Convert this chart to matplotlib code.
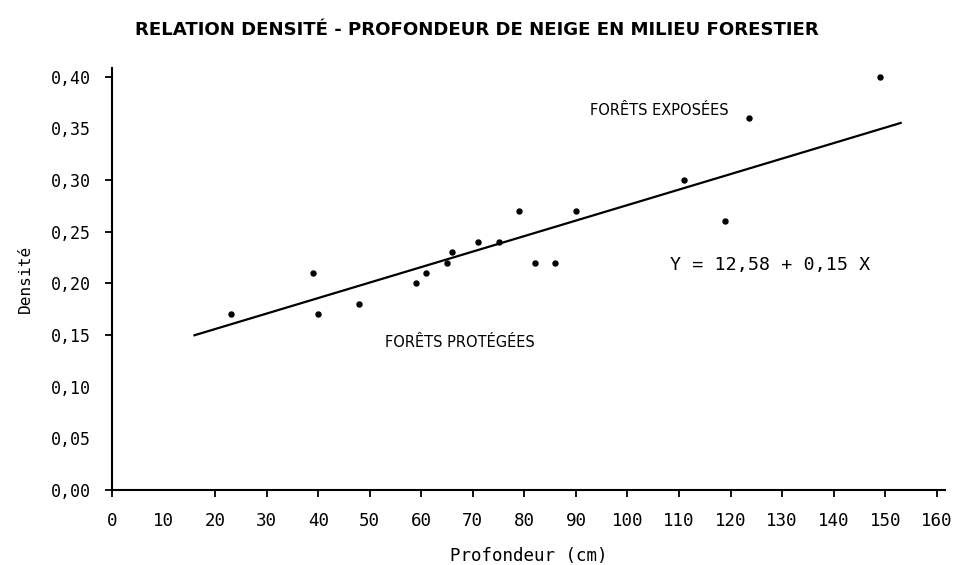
import numpy as np
import matplotlib
matplotlib.use("Agg")
import matplotlib.pyplot as plt

# profondeur de neige (cm) et densite
profondeur = [23, 39, 40, 48, 59, 61, 65, 66, 71, 75, 79, 82, 86, 90, 111, 119, 123.5, 149]
densite = [0.17, 0.21, 0.17, 0.18, 0.20, 0.21, 0.22, 0.23, 0.24, 0.24, 0.27, 0.22, 0.22, 0.27, 0.30, 0.26, 0.36, 0.40]

# droite de regression Y = 12,58 + 0,15 X (densite x 100)
a, b = 12.58, 0.15
x_droite = [16, 153]

x_ticks = list(range(0, 170, 10))
y_ticks = [0.0, 0.05, 0.10, 0.15, 0.20, 0.25, 0.30, 0.35, 0.40]
y_labels = ["0,00", "0,05", "0,10", "0,15", "0,20", "0,25", "0,30", "0,35", "0,40"]

mono = "DejaVu Sans Mono"
fs = 12.6

fig = plt.figure(figsize=(9.65, 5.65), dpi=100)
ax = fig.add_axes([112/965, 75/565, 833/965, 422/565])

xd = np.array(x_droite, dtype=float)
ax.plot(xd, (a + b*xd)/100.0, color="black", lw=1.6)
ax.plot(profondeur, densite, "o", color="black", markersize=3.6)

ax.set_xlim(0, 161.6)
ax.set_ylim(0, 0.4085)
ax.set_xticks(x_ticks)
ax.set_xticklabels([str(t) for t in x_ticks], family=mono, fontsize=fs)
ax.set_yticks(y_ticks)
ax.set_yticklabels(y_labels, family=mono, fontsize=fs - 0.6)
ax.tick_params(direction="out", length=5, width=1.3, colors="black")
ax.tick_params(axis="x", pad=11)
ax.tick_params(axis="y", pad=10)

# quelques graduations ne sont pas tracees sur l'original
ax.xaxis.get_major_ticks()[1].tick1line.set_visible(False)
for i in [1, 2, 7]:
    ax.yaxis.get_major_ticks()[i].tick1line.set_visible(False)

for s in ["top", "right"]:
    ax.spines[s].set_visible(False)
for s in ["left", "bottom"]:
    ax.spines[s].set_linewidth(1.5)

ax.set_xlabel("Profondeur (cm)", family=mono, fontsize=fs, labelpad=12)
ax.set_ylabel("Densité", family=mono, fontsize=fs - 1, labelpad=13)

ax.text(92.7, 0.367, "FORÊTS EXPOSÉES", fontsize=10.5, va="center", ha="left")
ax.text(52.9, 0.143, "FORÊTS PROTÉGÉES", fontsize=10.5, va="center", ha="left")
ax.text(108.2, 0.218, "Y = 12,58 + 0,15 X", family=mono, fontsize=13.2, va="center", ha="left")

fig.text(0.494, 0.947, "RELATION DENSITÉ - PROFONDEUR DE NEIGE EN MILIEU FORESTIER",
         ha="center", va="center", fontsize=13.1, fontweight="bold")

fig.savefig("out.png", dpi=100, facecolor="white")
